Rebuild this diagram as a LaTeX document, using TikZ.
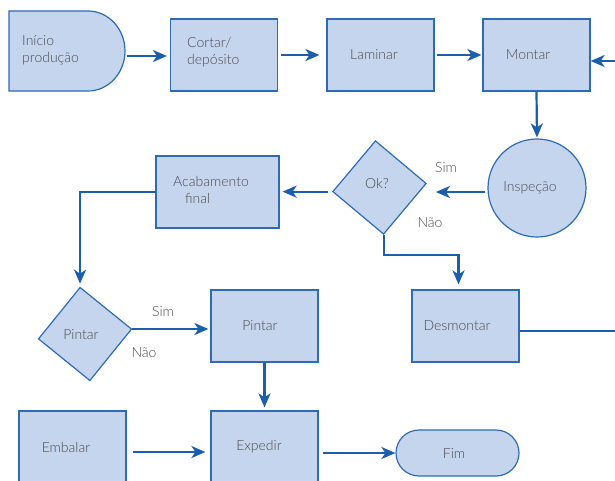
\documentclass[tikz,border=0pt]{standalone}
\usepackage{fontspec}
\setmainfont{Lato}[UprightFont={* Light}]
\usetikzlibrary{shapes.geometric,arrows.meta,calc}
\definecolor{boxfill}{HTML}{C6D5EE}
\definecolor{boxline}{HTML}{2D6BB5}
\definecolor{flow}{HTML}{1B5EAE}
\definecolor{ink}{HTML}{4A4B4D}
\begin{document}
\begin{tikzpicture}[x=1pt,y=-1pt,
  font=\fontsize{14}{17}\selectfont,
  shapebox/.style={draw=boxline, fill=boxfill, line width=1.2pt, inner sep=0pt},
  procbox/.style={shapebox, rectangle, minimum width=107pt, minimum height=72pt},
  decision/.style={shapebox, diamond, minimum width=94pt, minimum height=94pt},
  txt/.style={text=ink, inner sep=0pt},
  arr/.style={draw=flow, line width=2.2pt, -{Stealth[length=14pt,width=12pt,inset=4pt]}},
  flowline/.style={draw=flow, line width=2.2pt}
]
\useasboundingbox (0,0) rectangle (615,480);
\clip (0,0) rectangle (615,480);

% start terminal (flat left side, rounded right side)
\draw[shapebox] (9,11) -- (88,11)
  arc[start angle=-90, end angle=90, x radius=37, y radius=40] -- (9,91) -- cycle;
\coordinate (inicio) at (125,56);
\node[txt, anchor=west, align=left] (tinicio) at (22,50) {Início\\produção};

% top row
\node[procbox] (cortar) at (224,55) {};
\node[txt, anchor=west, align=left] (tcortar) at (187,52.5) {Cortar/\\depósito};
\node[procbox] (laminar) at (380.5,55) {};
\node[txt] (tlaminar) at (374,55) {Laminar};
\node[procbox] (montar) at (536.5,55) {};
\node[txt] (tmontar) at (528,55) {Montar};

% inspection and decision
\node[shapebox, circle, minimum size=98pt] (insp) at (537,188) {};
\node[txt] (tinsp) at (530,188) {Inspeção};
\node[decision, rotate=5] (ok) at (379.5,187.5) {};
\node[txt] (tok) at (377,183) {Ok?};
\node[procbox, minimum width=123pt] (acab) at (217.5,192) {};
\node[txt, anchor=west, align=left] (tacab) at (173,190) {Acabamento\\\hspace*{12pt}final};

% painting branch
\node[decision, rotate=6] (pdia) at (85,334) {};
\node[txt] (tpdia) at (81,335) {Pintar};
\node[procbox] (pbox) at (264.5,326) {};
\node[txt] (tpbox) at (260,326) {Pintar};
\node[procbox] (desm) at (465.5,326) {};
\node[txt] (tdesm) at (457,326) {Desmontar};

% bottom row
\node[procbox] (embalar) at (72.5,447) {};
\node[txt] (tembalar) at (66,447) {Embalar};
\node[procbox] (expedir) at (264.5,447) {};
\node[txt] (texpedir) at (259,447) {Expedir};
\node[shapebox, rectangle, rounded corners=23pt, minimum width=123pt, minimum height=46pt] (fim) at (457.5,453) {};
\node[txt] (tfim) at (454,453) {Fim};

% branch labels
\node[txt] (sim1) at (446,168) {Sim};
\node[txt] (nao1) at (430,223) {Não};
\node[txt] (sim2) at (163,312) {Sim};
\node[txt] (nao2) at (144,353) {Não};

% connectors
\draw[arr, shorten <=2pt, shorten >=3pt] (inicio) -- (inicio -| cortar.west);
\draw[arr, shorten <=3pt, shorten >=7pt] (cortar.east) -- (laminar.west);
\draw[arr, shorten <=2pt, shorten >=1pt] (laminar.east) -- (montar.west);
\coordinate (rin) at (615,61);
\draw[arr] (rin) -- (rin -| montar.east);
\draw[arr, shorten >=1pt] (montar.south) -- (insp.north);
\draw[arr, shorten <=2pt, shorten >=9pt] ([yshift=-4pt]insp.west) -- ([yshift=-4pt]insp.west -| ok.east);
\draw[arr, shorten <=4pt, shorten >=3pt] (ok.west) -- (ok.west -| acab.east);
\draw[arr, shorten >=3pt] (acab.west) -| (pdia.north);
\draw[arr, shorten >=5pt] (ok.south) -- ++(0,20) -| ([xshift=-7pt]desm.north);
\draw[arr, shorten >=2pt] (pdia.east) -- (pdia.east -| pbox.west);
\draw[arr, shorten >=3pt] (pbox.south) -- (expedir.north);
\coordinate (rout) at (615,331);
\draw[flowline] (rout -| desm.east) -- (rout);
\draw[arr, shorten <=6pt, shorten >=5pt] ([yshift=-5pt]embalar.east) -- ([yshift=-5pt]embalar.east -| expedir.west);
\draw[arr, shorten <=4pt] (fim.west -| expedir.east) -- (fim.west);
\end{tikzpicture}
\end{document}
